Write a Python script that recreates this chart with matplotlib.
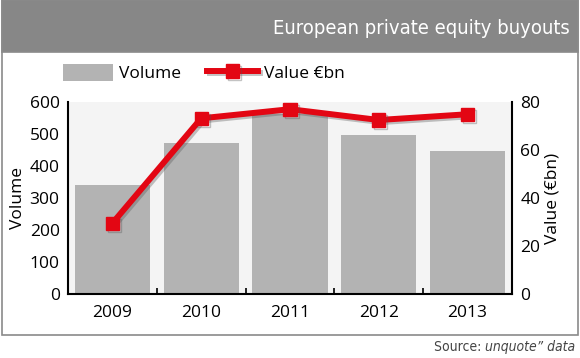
import matplotlib
matplotlib.use("Agg")
import matplotlib.pyplot as plt
import matplotlib.patheffects as pe
from matplotlib.patches import Rectangle
from matplotlib.lines import Line2D

# data
years = ["2009", "2010", "2011", "2012", "2013"]
volume = [342, 471, 562, 497, 447]
value_bn = [29.5, 73.2, 77.0, 72.5, 74.9]

W, H = 580, 358
fig = plt.figure(figsize=(W / 100, H / 100), dpi=100)
plt.rcParams['font.family'] = ['Open Sans', 'DejaVu Sans']
narrow = dict(family=["DejaVu Sans"], stretch="condensed")

# outer frame and header band
fig.patches.append(Rectangle((2 / W, 1 - 335 / H), 576 / W, 335 / H, transform=fig.transFigure,
                             facecolor="white", edgecolor="#8a8a8a", lw=1.2, zorder=-2))
fig.patches.append(Rectangle((2 / W, 1 - 52 / H), 576 / W, 52 / H, transform=fig.transFigure,
                             facecolor="#878787", edgecolor="#8a8a8a", lw=1.2, zorder=-1))
fig.text(570 / W, 1 - 28 / H, "European private equity buyouts", ha="right", va="center",
         color="white", fontsize=14.5, **narrow)
src = fig.text(575 / W, 1 - 347 / H, "unquote\u201d data", ha="right", va="center", color="#444444",
               fontsize=10, style="italic", **narrow)
fig.canvas.draw()
bb = src.get_window_extent()
fig.text(bb.x0 / W, 1 - 347 / H, "Source: ", ha="right", va="center", color="#444444",
         fontsize=10, **narrow)

ax = fig.add_axes([68 / W, 1 - 294 / H, 444 / W, 192 / H])
ax.set_facecolor("#f4f4f4")
x = list(range(len(years)))
ax.bar(x, volume, width=0.845, color="#b3b3b3", zorder=2)
ax.set_xlim(-0.5, len(years) - 0.5)
ax.set_ylim(0, 600)
ax.set_yticks([0, 100, 200, 300, 400, 500, 600])
ax.set_xticks(x)
ax.set_xticklabels(years)
ax.set_xticks([i + 0.5 for i in x[:-1]], minor=True)
ax.tick_params(axis="x", which="major", length=0, labelsize=12.5, pad=8)
ax.tick_params(axis="x", which="minor", length=4, direction="in", width=1.2)
ax.tick_params(axis="y", length=0, labelsize=12.5, pad=6)
ax.set_ylabel("Volume", fontsize=12.5, labelpad=3)
for s in ["top", "right"]:
    ax.spines[s].set_visible(False)
ax.spines["left"].set_linewidth(1.5)
ax.spines["bottom"].set_linewidth(1.5)

ax2 = ax.twinx()
ax2.set_ylim(0, 80)
ax2.set_yticks([0, 20, 40, 60, 80])
ax2.tick_params(axis="y", length=0, labelsize=12.5, pad=6)
ax2.set_ylabel("Value (\u20acbn)", fontsize=12.5, labelpad=3)
for s in ["top", "left", "bottom"]:
    ax2.spines[s].set_visible(False)
ax2.spines["right"].set_linewidth(1.5)
shadow = [pe.SimpleLineShadow(offset=(1.5, -1.5), shadow_color="#555555", alpha=0.35), pe.Normal()]
ax2.plot(x, value_bn, color="#e30613", lw=4.3, marker="s", markersize=9.5,
         path_effects=shadow, zorder=3, clip_on=False)

# legend
handles = [Rectangle((0, 0), 1, 1, facecolor="#b3b3b3", edgecolor="none"),
           Line2D([], [], color="#e30613", lw=4.3, marker="s", markersize=9.5, path_effects=shadow)]
fig.legend(handles, ["Volume", "Value \u20acbn"], loc="center left", bbox_to_anchor=(63 / W, 1 - 73 / H),
           ncol=2, frameon=False, fontsize=12.5, handlelength=2.9, handleheight=1.15,
           columnspacing=1.5, handletextpad=0.35, borderpad=0, borderaxespad=0)

fig.savefig("out.png", dpi=100)
